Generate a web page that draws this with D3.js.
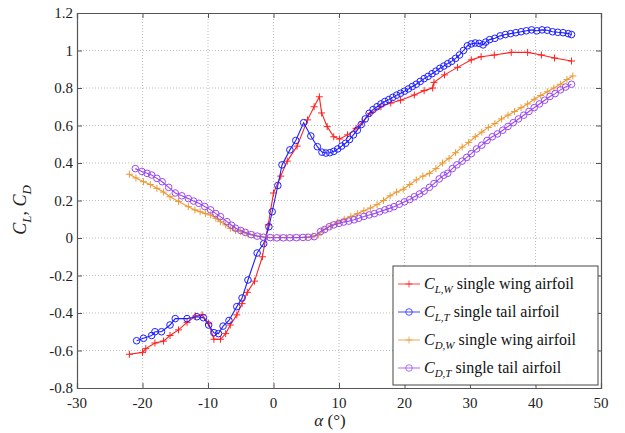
<!DOCTYPE html>
<html>
<head>
<meta charset="utf-8">
<script src="https://cdn.jsdelivr.net/npm/d3@7/dist/d3.min.js"></script>
</head>
<body style="margin:0">
<script>
// ---- data ----
const clwAlpha = [-22, -20, -19.5, -18.1, -16.8, -15.8, -14.5, -13.2, -11.9, -10.9, -9.9, -9.1, -8.1, -7.3, -6.6, -5.6, -4.8, -4, -2.9, -1.7, -0.8, 0, 1.1, 2.1, 3.6, 5.2, 6.2, 7.0, 7.35, 8.2, 9.2, 10.1, 11.3, 12.6, 13.6, 14.8, 16.4, 17.9, 19.4, 21.5, 23, 24.3, 24.5, 26.1, 28.1, 30.2, 31.7, 33.7, 36.3, 38.8, 40.9, 42.9, 45.5];
const clwValue = [-0.62, -0.61, -0.59, -0.56, -0.55, -0.52, -0.49, -0.45, -0.416, -0.41, -0.455, -0.54, -0.54, -0.51, -0.464, -0.41, -0.35, -0.29, -0.23, -0.10, 0.07, 0.24, 0.33, 0.41, 0.49, 0.63, 0.70, 0.753, 0.667, 0.594, 0.54, 0.528, 0.55, 0.585, 0.62, 0.665, 0.70, 0.72, 0.735, 0.763, 0.786, 0.80, 0.83, 0.87, 0.91, 0.95, 0.967, 0.976, 0.99, 0.99, 0.976, 0.96, 0.944];

const cltAlpha = [-20.9, -19.85, -18.6, -18.1, -17.1, -15.8, -15, -13.2, -11.7, -10.7, -9.9, -9.1, -8.4, -7.7, -6.8, -5.6, -4.8, -3.9, -2.5, -1.5, -0.7, -0.2, 0.66, 1.3, 2.5, 3.4, 4.6, 5.7, 6.7, 7.4, 8, 8.6, 9.2, 9.8, 10.4, 11, 11.6, 12.2, 12.8, 13.4, 14, 14.6, 15.2, 15.8, 16.4, 17, 17.6, 18.2, 18.8, 19.4, 20, 20.6, 21.2, 21.8, 22.4, 23, 23.6, 24.2, 24.8, 25.4, 26, 26.6, 27.2, 27.8, 28.4, 29, 29.6, 30.2, 30.8, 31.4, 32, 32.4, 33, 33.8, 34.6, 35.4, 36.2, 37, 37.8, 38.6, 39.4, 40.2, 41, 41.8, 42.6, 43.4, 44.2, 45, 45.5];
const cltValue = [-0.548, -0.535, -0.52, -0.50, -0.50, -0.464, -0.43, -0.43, -0.42, -0.425, -0.464, -0.505, -0.51, -0.47, -0.44, -0.366, -0.32, -0.224, -0.08, -0.03, 0.06, 0.14, 0.28, 0.39, 0.47, 0.52, 0.615, 0.544, 0.487, 0.458, 0.453, 0.455, 0.462, 0.475, 0.49, 0.505, 0.525, 0.55, 0.575, 0.605, 0.635, 0.665, 0.685, 0.70, 0.715, 0.728, 0.738, 0.75, 0.762, 0.772, 0.783, 0.795, 0.808, 0.82, 0.835, 0.85, 0.862, 0.876, 0.89, 0.905, 0.917, 0.93, 0.942, 0.958, 0.976, 1.0, 1.025, 1.035, 1.04, 1.038, 1.03, 1.045, 1.058, 1.065, 1.078, 1.085, 1.09, 1.095, 1.10, 1.105, 1.11, 1.105, 1.11, 1.108, 1.10, 1.097, 1.095, 1.09, 1.085];

const cdwAlpha = [-22, -21, -19.85, -18.8, -17.8, -16.8, -15.8, -14.5, -13, -12, -11.2, -10.4, -9.6, -8.8, -8.1, -7.3, -6.6, -5.8, -5, -4, -3, -2, -1, 0, 1, 2, 3, 4, 5, 6, 6.9, 7.7, 8.7, 9.75, 10.8, 11.8, 12.8, 13.8, 14.8, 15.8, 16.8, 17.8, 18.8, 19.8, 20.8, 21.8, 22.8, 23.8, 24.8, 25.8, 26.8, 27.8, 28.8, 29.8, 30.8, 31.8, 32.8, 33.8, 34.8, 35.8, 36.8, 37.8, 38.8, 39.8, 40.8, 41.8, 42.8, 43.8, 44.8, 45.7];
const cdwValue = [0.34, 0.32, 0.30, 0.285, 0.265, 0.245, 0.22, 0.195, 0.167, 0.15, 0.14, 0.13, 0.123, 0.105, 0.087, 0.07, 0.052, 0.04, 0.034, 0.022, 0.016, 0.008, 0.004, 0.003, 0.003, 0.003, 0.003, 0.003, 0.005, 0.01, 0.016, 0.045, 0.065, 0.085, 0.10, 0.115, 0.13, 0.145, 0.16, 0.178, 0.20, 0.225, 0.245, 0.26, 0.285, 0.31, 0.33, 0.345, 0.37, 0.40, 0.425, 0.455, 0.485, 0.51, 0.54, 0.565, 0.59, 0.61, 0.635, 0.655, 0.675, 0.695, 0.715, 0.74, 0.76, 0.78, 0.80, 0.82, 0.845, 0.864];

const cdtAlpha = [-21.1, -20.1, -19.3, -18.6, -17.8, -17, -16, -15, -14, -13, -12.2, -11.4, -10.5, -9.6, -8.8, -8.1, -7.1, -6.4, -5.8, -5, -4.3, -3.4, -2.5, -1.5, -0.5, 0.5, 1.5, 2.5, 3.5, 4.5, 5.3, 6.2, 7.2, 7.8, 8.5, 9.2, 10, 10.7, 11.5, 12.3, 13, 13.8, 14.6, 15.4, 16.2, 17, 17.7, 18.4, 19.2, 20, 20.8, 21.5, 22.3, 23, 23.8, 24.5, 25.3, 26, 26.6, 27.3, 28, 28.8, 29.5, 30.2, 31, 31.8, 32.6, 33.4, 34.2, 35, 35.8, 36.6, 37.4, 38.2, 39, 39.8, 40.6, 41.4, 42.2, 43, 43.8, 44.6, 45.5];
const cdtValue = [0.37, 0.355, 0.345, 0.336, 0.318, 0.30, 0.27, 0.24, 0.225, 0.21, 0.197, 0.185, 0.168, 0.15, 0.13, 0.114, 0.087, 0.068, 0.052, 0.04, 0.03, 0.018, 0.01, 0.004, 0.002, 0.001, 0.001, 0.001, 0.002, 0.003, 0.004, 0.007, 0.035, 0.045, 0.06, 0.07, 0.078, 0.085, 0.09, 0.097, 0.105, 0.115, 0.123, 0.13, 0.14, 0.15, 0.158, 0.167, 0.18, 0.193, 0.205, 0.22, 0.235, 0.25, 0.27, 0.29, 0.315, 0.335, 0.345, 0.37, 0.39, 0.41, 0.43, 0.45, 0.475, 0.495, 0.52, 0.54, 0.555, 0.575, 0.595, 0.615, 0.635, 0.655, 0.675, 0.695, 0.715, 0.735, 0.755, 0.77, 0.79, 0.805, 0.82];

const xTicks = [-30, -20, -10, 0, 10, 20, 30, 40, 50];
const yTicks = [-0.8, -0.6, -0.4, -0.2, 0, 0.2, 0.4, 0.6, 0.8, 1, 1.2];

const series = [
  { sub: "L,W", label: " single wing airfoil", color: "#ff2020", marker: "plus", alpha: clwAlpha, value: clwValue },
  { sub: "L,T", label: " single tail airfoil", color: "#1f1fff", marker: "circle", alpha: cltAlpha, value: cltValue },
  { sub: "D,W", label: " single wing airfoil", color: "#ec9a35", marker: "plus", alpha: cdwAlpha, value: cdwValue },
  { sub: "D,T", label: " single tail airfoil", color: "#9a48f0", marker: "circle", alpha: cdtAlpha, value: cdtValue }
];

const FONT = "Times New Roman";

// ---- layout ----
const W = 625, H = 433;
const margin = { top: 13, right: 24, bottom: 45, left: 77 };
const iw = W - margin.left - margin.right;
const ih = H - margin.top - margin.bottom;

const svg = d3.select("body").append("svg").attr("width", W).attr("height", H);
const g = svg.append("g").attr("transform", `translate(${margin.left},${margin.top})`);

const x = d3.scaleLinear().domain([-30, 50]).range([0, iw]);
const y = d3.scaleLinear().domain([-0.8, 1.2]).range([ih, 0]);

function label(parent, px, py, size, anchor, rotate) {
  return parent.append("text")
    .attr("transform", `translate(${px},${py})${rotate ? ` rotate(${rotate})` : ""}`)
    .attr("text-anchor", anchor || "start")
    .attr("font-family", FONT).attr("font-size", size).attr("fill", "#222")
    .style("font-family", FONT);
}

// grid
g.append("g").selectAll("line").data(xTicks.slice(1, -1)).join("line")
  .attr("x1", d => x(d)).attr("x2", d => x(d)).attr("y1", 0).attr("y2", ih)
  .attr("stroke", "#bdbdbd").attr("stroke-dasharray", "1,2");
g.append("g").selectAll("line").data(yTicks.slice(1, -1)).join("line")
  .attr("y1", d => y(d)).attr("y2", d => y(d)).attr("x1", 0).attr("x2", iw)
  .attr("stroke", "#bdbdbd").attr("stroke-dasharray", "1,2");

// axes: box with inward ticks
g.append("g").attr("transform", `translate(0,${ih})`)
  .call(d3.axisBottom(x).tickValues(xTicks).tickSize(-5).tickFormat(""));
g.append("g")
  .call(d3.axisLeft(y).tickValues(yTicks).tickSize(-5).tickFormat(""));
g.append("g")
  .call(d3.axisTop(x).tickValues(xTicks).tickSize(-5).tickFormat(""));
g.append("g").attr("transform", `translate(${iw},0)`)
  .call(d3.axisRight(y).tickValues(yTicks).tickSize(-5).tickFormat(""));
g.selectAll(".domain").attr("stroke", "#555").attr("stroke-width", 1.2);
g.selectAll(".tick line").attr("stroke", "#555");

const fmt = d => String(+d.toFixed(1));
xTicks.forEach(d => label(g, x(d), ih + 20, 15, "middle").text(fmt(d)));
yTicks.forEach(d => label(g, -4, y(d) + 5, 15, "end").text(fmt(d)));

// markers
function drawMarker(sel, type, color) {
  if (type === "plus") {
    sel.append("path").attr("d", "M-3.5,0H3.5M0,-3.5V3.5")
      .attr("stroke", color).attr("stroke-width", 1).attr("fill", "none");
  } else {
    sel.append("circle").attr("r", 3.3)
      .attr("stroke", color).attr("stroke-width", 1).attr("fill", "none");
  }
}

const line = d3.line().x(d => x(d[0])).y(d => y(d[1]));

series.forEach(s => {
  const pts = s.alpha.map((a, i) => [a, s.value[i]]);
  const sg = g.append("g");
  sg.append("path").datum(pts).attr("d", line)
    .attr("fill", "none").attr("stroke", s.color).attr("stroke-width", 1.1);
  sg.selectAll("g").data(pts).join("g")
    .attr("transform", d => `translate(${x(d[0])},${y(d[1])})`)
    .each(function () { drawMarker(d3.select(this), s.marker, s.color); });
});

// legend
const lg = svg.append("g").attr("transform", "translate(393,266)");
lg.append("rect").attr("width", 205).attr("height", 119)
  .attr("fill", "#fff").attr("stroke", "#444").attr("stroke-width", 1);
series.forEach((s, i) => {
  const yy = 18 + i * 28;
  const row = lg.append("g").attr("transform", `translate(0,${yy})`);
  row.append("line").attr("x1", 5).attr("x2", 27).attr("y1", 0).attr("y2", 0)
    .attr("stroke", s.color).attr("stroke-width", 1.1).attr("opacity", 0.75);
  const m = row.append("g").attr("transform", "translate(16,0)").attr("opacity", 0.75);
  drawMarker(m, s.marker, s.color);
  const t = label(row, 31, 5, 16).attr("fill", "#111");
  t.append("tspan").attr("font-style", "italic").text("C");
  t.append("tspan").attr("font-style", "italic").attr("dy", 4).attr("font-size", 11).text(s.sub);
  t.append("tspan").attr("dy", -4).text(s.label);
});

// axis labels
const xl = label(svg, 330, 426, 17, "middle");
xl.append("tspan").attr("font-style", "italic").text("α");
xl.append("tspan").text(" (°)");

const yl = label(svg, 26, 210, 18, "middle", -90);
yl.append("tspan").attr("font-style", "italic").text("C");
yl.append("tspan").attr("font-style", "italic").attr("dy", 5).attr("font-size", 13).text("L");
yl.append("tspan").attr("dy", -5).text(", ");
yl.append("tspan").attr("font-style", "italic").text("C");
yl.append("tspan").attr("font-style", "italic").attr("dy", 5).attr("font-size", 13).text("D");
</script>
</body>
</html>
